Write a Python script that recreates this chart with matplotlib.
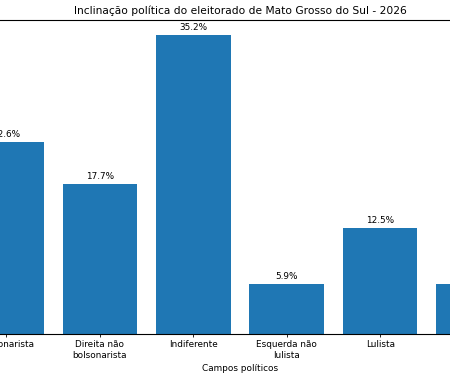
import matplotlib
matplotlib.use("Agg")
import matplotlib.pyplot as plt

# data
campos = ["Bolsonarista", "Direita não\nbolsonarista", "Indiferente",
          "Esquerda não\nlulista", "Lulista", "Não sabe"]
percentuais = [22.6, 17.7, 35.2, 5.9, 12.5, 5.9]

W, H = 450, 381
fig = plt.figure(figsize=(W / 100, H / 100), dpi=100)

# the reference is a crop of a wider chart, so the axes run past the figure edges
ax_left, ax_right = -58, 538
ax_top, ax_bottom = 20, 334
ax = fig.add_axes([ax_left / W, (H - ax_bottom) / H,
                   (ax_right - ax_left) / W, (ax_bottom - ax_top) / H])

bars = ax.bar(range(len(campos)), percentuais, color="#1f77b4", width=0.8)
ax.bar_label(bars, labels=[f"{v:.1f}%" for v in percentuais], padding=2, fontsize=6.4)

ax.set_xticks(range(len(campos)))
ax.set_xticklabels(campos, fontsize=6.4)
ax.tick_params(axis="x", length=2.5, width=0.6, pad=2)
ax.set_yticks([])
ax.set_xlabel("Campos políticos", fontsize=6.4, labelpad=3)
ax.set_title("Inclinação política do eleitorado de Mato Grosso do Sul - 2026",
             fontsize=7.7, pad=4)
for s in ax.spines.values():
    s.set_linewidth(0.8)

fig.savefig("out.png", dpi=100)
